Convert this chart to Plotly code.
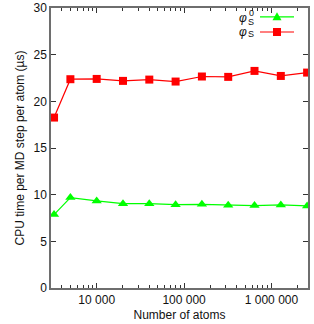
import plotly.graph_objects as go
import numpy as np

atoms = [3250, 5000, 10000, 20000, 40000, 80000, 160000, 320000, 640000, 1280000, 2560000]
phi_s0 = [7.87, 9.69, 9.33, 9.04, 9.04, 8.93, 8.97, 8.86, 8.83, 8.90, 8.79]
phi_s = [18.26, 22.37, 22.40, 22.19, 22.33, 22.12, 22.66, 22.62, 23.26, 22.72, 23.08]
x_tickvals = [10000, 100000, 1000000]
x_ticktext = ["10 000", "100 000", "1 000 000"]
y_tickvals = [0, 5, 10, 15, 20, 25, 30]

FONT = "Liberation Sans, Arial, sans-serif"
GREEN = "#00ff00"
RED = "#ff0000"
AX = "#6e6e6e"

W, H = 314, 324
L, R, T, B = 51, 6, 8, 36
PW, PH = W - L - R, H - T - B


def px(x):
    return (x - L) / PW


def py(y):
    return (H - B - y) / PH


fig = go.Figure()
fig.add_trace(go.Scatter(x=atoms, y=phi_s0, mode="lines+markers", name="φS0",
                         line=dict(color=GREEN, width=1.2),
                         marker=dict(symbol="triangle-up", size=9, color=GREEN)))
fig.add_trace(go.Scatter(x=atoms, y=phi_s, mode="lines+markers", name="φS",
                         line=dict(color=RED, width=1.2),
                         marker=dict(symbol="square", size=8, color=RED)))

fig.update_layout(
    width=W, height=H,
    margin=dict(l=L, r=R, t=T, b=B, autoexpand=False),
    paper_bgcolor="white", plot_bgcolor="white",
    font=dict(family=FONT, size=12, color="#111"),
    showlegend=False,
)
fig.update_xaxes(type="log", range=[np.log10(3000), np.log10(2.62e6)],
                 tickvals=x_tickvals, ticktext=x_ticktext,
                 ticks="inside", ticklen=5, tickcolor="#333",
                 showline=True, linecolor=AX, linewidth=1.5, mirror="ticks",
                 showgrid=False, zeroline=False, automargin=False,
                 minor=dict(ticks="inside", ticklen=3, tickcolor="#333",
                            tickvals=[m * 10 ** e for e in range(3, 7) for m in range(2, 10)
                                      if 3000 <= m * 10 ** e <= 2.62e6]),
                 title=dict(text="Number of atoms", standoff=4, font=dict(size=12)))
fig.update_yaxes(range=[0, 30], tickvals=y_tickvals,
                 ticks="inside", ticklen=5, tickcolor="#333",
                 showline=True, linecolor=AX, linewidth=1.5, mirror="ticks",
                 showgrid=False, zeroline=False, automargin=False,
                 title=dict(text="CPU time per MD step per atom (µs)", standoff=6, font=dict(size=12)))

# gnuplot-style key: label on the left, sample on the right
for yc, col, sym in [(16.8, GREEN, "tri"), (32.0, RED, "sq")]:
    fig.add_shape(type="line", xref="paper", yref="paper",
                  x0=px(260), x1=px(294), y0=py(yc), y1=py(yc),
                  line=dict(color=col, width=1.2))
    if sym == "tri":
        path = "M -4.5 -3.5 L 4.5 -3.5 L 0 4.5 Z"
    else:
        path = "M -4 -4 L 4 -4 L 4 4 L -4 4 Z"
    fig.add_shape(type="path", xref="paper", yref="paper",
                  xsizemode="pixel", ysizemode="pixel",
                  xanchor=px(277), yanchor=py(yc), path=path,
                  fillcolor=col, line=dict(color=col, width=0))

fig.add_annotation(xref="paper", yref="paper", x=px(248.5), y=py(18.5), xanchor="right", yanchor="middle",
                   text="<i>φ</i>", showarrow=False, font=dict(size=12))
fig.add_annotation(xref="paper", yref="paper", x=px(246), y=py(21.5), xanchor="left", yanchor="middle",
                   text="S", showarrow=False, font=dict(size=9))
fig.add_annotation(xref="paper", yref="paper", x=px(246.5), y=py(13), xanchor="left", yanchor="middle",
                   text="0", showarrow=False, font=dict(size=9))
fig.add_annotation(xref="paper", yref="paper", x=px(248.5), y=py(31.5), xanchor="right", yanchor="middle",
                   text="<i>φ</i>", showarrow=False, font=dict(size=12))
fig.add_annotation(xref="paper", yref="paper", x=px(246), y=py(34), xanchor="left", yanchor="middle",
                   text="S", showarrow=False, font=dict(size=9))

fig.write_html("out.html", config={"displayModeBar": False},
               post_script="document.body.style.margin='0';document.body.style.padding='0';")
